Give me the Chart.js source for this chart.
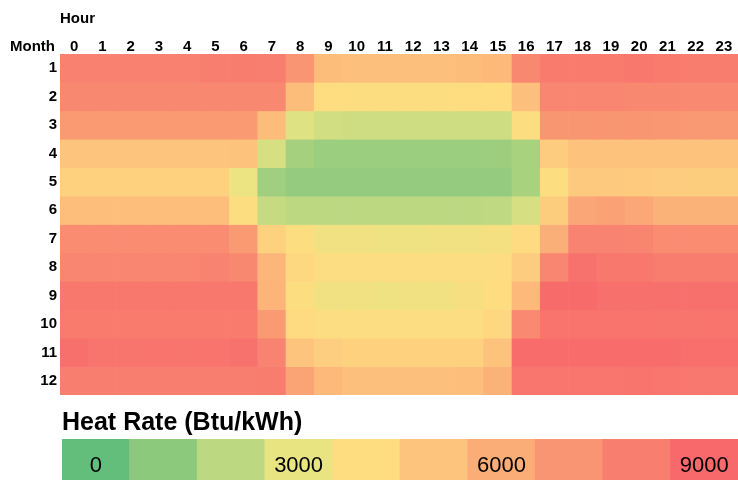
<!DOCTYPE html>
<html>
<head>
<meta charset="utf-8">
<script src="https://cdn.jsdelivr.net/npm/chart.js@4.4.1/dist/chart.umd.min.js"></script>
<style>
  html, body { margin: 0; padding: 0; background: #fff; }
  #wrap { position: relative; width: 738px; height: 480px; }
  #heat { position: absolute; left: 0; top: 0; }
  #scale { position: absolute; left: 0; top: 400px; }
</style>
</head>
<body>
<div id="wrap">
  <canvas id="heat" width="738" height="395"></canvas>
  <canvas id="scale" width="738" height="80"></canvas>
</div>
<script>
const hours = [0, 1, 2, 3, 4, 5, 6, 7, 8, 9, 10, 11, 12, 13, 14, 15, 16, 17, 18, 19, 20, 21, 22, 23];
const months = [1, 2, 3, 4, 5, 6, 7, 8, 9, 10, 11, 12];

// heat rate (Btu/kWh) per hour, one row per month
const jan = [7900, 7900, 7900, 7900, 7900, 8000, 8100, 8000, 7000, 5300, 5200, 5200, 5200, 5200, 5300, 5500, 7600, 8200, 8200, 8200, 8300, 8200, 8100, 8100];
const feb = [7600, 7600, 7600, 7600, 7600, 7600, 7600, 7600, 5300, 4000, 3900, 3900, 3900, 3900, 4000, 4000, 5200, 7700, 7700, 7700, 7600, 7600, 7500, 7500];
const mar = [6800, 6800, 6800, 6800, 6800, 6800, 6800, 5300, 2800, 2500, 2400, 2400, 2400, 2400, 2400, 2400, 3900, 6950, 6950, 6950, 6950, 6900, 6850, 6850];
const apr = [5000, 5000, 5000, 5000, 5000, 5000, 5050, 2600, 1500, 1300, 1300, 1300, 1300, 1300, 1300, 1350, 1600, 4700, 5100, 5100, 5100, 5050, 5050, 5050];
const may = [4500, 4500, 4500, 4500, 4500, 4500, 3200, 1400, 1150, 1150, 1150, 1150, 1150, 1150, 1150, 1150, 1600, 3900, 4800, 4800, 4750, 4700, 4650, 4650];
const jun = [5250, 5250, 5250, 5250, 5250, 5250, 3900, 2200, 2000, 2000, 2000, 2000, 2000, 2000, 2000, 2050, 2600, 4650, 6300, 6500, 6250, 5800, 5800, 5800];
const jul = [7400, 7400, 7400, 7400, 7400, 7400, 6800, 4500, 3900, 3400, 3400, 3300, 3300, 3400, 3400, 3600, 4100, 5900, 7800, 7800, 7750, 7400, 7400, 7400];
const aug = [7700, 7700, 7700, 7700, 7700, 7800, 7600, 5600, 4200, 3950, 3950, 3950, 3950, 3950, 3950, 3950, 4700, 7700, 8600, 8300, 8300, 8100, 8100, 8100];
const sep = [8300, 8300, 8300, 8300, 8300, 8300, 8300, 5700, 3900, 3400, 3400, 3300, 3400, 3400, 3700, 4000, 5500, 8900, 8900, 8700, 8700, 8700, 8700, 8700];
const oct = [8200, 8200, 8200, 8200, 8200, 8200, 8200, 6800, 4100, 3950, 3950, 3950, 3950, 3950, 3950, 4250, 7500, 8500, 8500, 8500, 8500, 8450, 8450, 8450];
const nov = [8700, 8450, 8450, 8450, 8450, 8500, 8600, 7800, 5000, 4600, 4500, 4500, 4500, 4500, 4500, 5100, 8800, 8800, 8800, 8800, 8850, 8800, 8750, 8750];
const dec = [8000, 8000, 8000, 8000, 8000, 8000, 8050, 8100, 6400, 5500, 5200, 5200, 5200, 5200, 5250, 5800, 8400, 8400, 8400, 8400, 8450, 8400, 8350, 8350];
const heatRate = [jan, feb, mar, apr, may, jun, jul, aug, sep, oct, nov, dec];

// colour scale swatches
const legendSteps = [0, 1000, 2000, 3000, 4000, 5000, 6000, 7000, 8000, 9000];
const legendLabels = ['0', '', '', '3000', '', '', '6000', '', '', '9000'];
const legendColors = ['#63BE7B', '#8DC97D', '#BCD881', '#E8E482', '#FEDD81', '#FDC47D', '#FBAD77', '#F99572', '#F87F6F', '#F8696B'];

const FONT = '"Liberation Sans", Arial, sans-serif';

function hexRgb(h) {
    return [1, 3, 5].map(i => parseInt(h.slice(i, i + 2), 16));
}

function colorFor(v) {
    const pos = Math.max(0, Math.min(legendSteps.length - 1, v / 1000));
    const i = Math.min(Math.floor(pos), legendSteps.length - 2);
    const t = pos - i;
    const a = hexRgb(legendColors[i]);
    const b = hexRgb(legendColors[i + 1]);
    const c = a.map((x, k) => Math.round(x + (b[k] - x) * t));
    return `rgb(${c[0]}, ${c[1]}, ${c[2]})`;
}

const cornerLabel = {
    id: 'cornerLabel',
    afterDraw(chart) {
        const { ctx, scales: { x, y } } = chart;
        ctx.save();
        ctx.font = `bold 15px ${FONT}`;
        ctx.fillStyle = '#000';
        ctx.textAlign = 'right';
        ctx.textBaseline = 'middle';
        ctx.fillText('Month', y.right - 5, x.bottom - 7);
        ctx.restore();
    }
};

new Chart(document.getElementById('heat'), {
    type: 'bar',
    data: {
        labels: hours,
        datasets: heatRate.map((row, m) => ({
            label: String(months[m]),
            data: row.map(() => [months[m] - 0.5, months[m] + 0.5]),
            backgroundColor: row.map(colorFor),
            borderWidth: 0,
            barPercentage: 1,
            categoryPercentage: 1,
            grouped: false
        }))
    },
    options: {
        responsive: false,
        animation: false,
        layout: { padding: 0 },
        plugins: {
            legend: { display: false },
            tooltip: { enabled: false }
        },
        scales: {
            x: {
                position: 'top',
                grid: { display: false, drawTicks: false },
                border: { display: false },
                ticks: { color: '#000', font: { family: FONT, size: 15, weight: 'bold' }, padding: -2, maxRotation: 0, autoSkip: false },
                title: { display: true, text: 'Hour', align: 'start', color: '#000', font: { family: FONT, size: 15, weight: 'bold' }, padding: { top: 10, bottom: 0 } },
                afterFit: s => { s.height = 54; s.paddingLeft = 0; s.paddingRight = 0; }
            },
            y: {
                type: 'linear',
                reverse: true,
                min: 0.5,
                max: 12.5,
                grid: { display: false, drawTicks: false },
                border: { display: false },
                afterBuildTicks: s => { s.ticks = months.map(v => ({ value: v })); },
                ticks: { color: '#000', font: { family: FONT, size: 15, weight: 'bold' }, padding: 3 },
                afterFit: s => { s.width = 60; s.paddingTop = 0; s.paddingBottom = 0; }
            }
        }
    },
    plugins: [cornerLabel]
});

const swatchLabels = {
    id: 'swatchLabels',
    afterDatasetsDraw(chart) {
        const { ctx } = chart;
        const meta = chart.getDatasetMeta(0);
        ctx.save();
        ctx.font = `22px ${FONT}`;
        ctx.fillStyle = '#000';
        ctx.textAlign = 'center';
        ctx.textBaseline = 'middle';
        meta.data.forEach((bar, i) => {
            if (legendLabels[i]) ctx.fillText(legendLabels[i], bar.x, (bar.y + bar.base) / 2 + 6);
        });
        ctx.restore();
    }
};

new Chart(document.getElementById('scale'), {
    type: 'bar',
    data: {
        labels: legendSteps,
        datasets: [{
            data: legendSteps.map(() => [0, 1]),
            backgroundColor: legendSteps.map(colorFor),
            borderWidth: 0,
            barPercentage: 1,
            categoryPercentage: 1
        }]
    },
    options: {
        responsive: false,
        animation: false,
        layout: { padding: { left: 62 } },
        plugins: {
            legend: { display: false },
            tooltip: { enabled: false },
            title: {
                display: true,
                text: 'Heat Rate (Btu/kWh)',
                align: 'start',
                color: '#000',
                font: { family: FONT, size: 25, weight: 'bold' },
                padding: { top: 8, bottom: 1 }
            }
        },
        scales: {
            x: { display: false },
            y: { display: false, min: 0, max: 1 }
        }
    },
    plugins: [swatchLabels]
});
</script>
</body>
</html>
